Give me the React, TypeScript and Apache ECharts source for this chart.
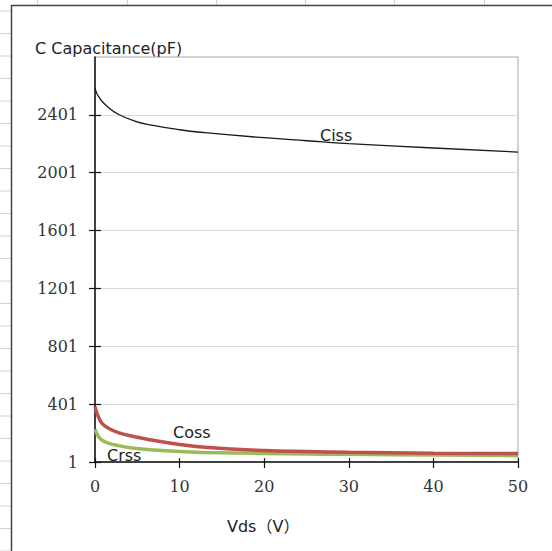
import React, { useEffect, useRef } from "react";
import * as echarts from "echarts";

// Vds (V) sample points
const vds = [0, 0.2, 0.4, 0.8, 1.6, 2.75, 4.7, 6.7, 10, 13, 20, 25, 30, 40, 50];
// Capacitances (pF)
const ciss = [2585, 2552, 2530, 2497, 2452, 2405, 2358, 2330, 2298, 2278, 2243, 2222, 2202, 2172, 2144];
const coss = [383, 345, 314, 270, 234, 204, 175, 153, 122, 103, 80, 73, 68, 62, 59];
const crss = [227, 200, 178, 153, 131, 114, 96, 85, 73, 67, 60, 57, 54, 49, 45];

const xTicks = [0, 10, 20, 30, 40, 50];
const yTicks = [1, 401, 801, 1201, 1601, 2001, 2401];
const seriesNames = ["Ciss", "Coss", "Crss"];

const pairs = (ys: number[]) => vds.map((v, i) => [v, ys[i]]);

export default function App() {
  const ref = useRef<HTMLDivElement>(null);
  useEffect(() => {
    const chart = echarts.init(ref.current!, null, { renderer: "svg" });
    const graphics: any[] = [];
    // spreadsheet cell lines outside the chart box
    [37, 127, 216, 305, 394, 484].forEach((x) =>
      graphics.push({ type: "line", silent: true, shape: { x1: x + 0.5, y1: 0, x2: x + 0.5, y2: 5 }, style: { stroke: "#d4d4d4", lineWidth: 1 } })
    );
    for (let k = 0; k < 25; k++) {
      const y = 11 + 22.5 * k;
      graphics.push({ type: "line", silent: true, shape: { x1: 0, y1: y, x2: 11, y2: y }, style: { stroke: "#d4d4d4", lineWidth: 1 } });
    }
    // chart box frame
    graphics.push({ type: "rect", silent: true, shape: { x: 11.5, y: 5.5, width: 700, height: 700 }, style: { fill: "none", stroke: "#444", lineWidth: 1.5 } });
    const sans = '"DejaVu Sans", "Noto Sans CJK SC", sans-serif';
    const txt = (text: string, x: number, y: number) => ({
      type: "text", x, y, style: { text, font: `16px ${sans}`, fill: "#222", verticalAlign: "middle" },
    });
    graphics.push(txt("C Capacitance(pF)", 35, 48));
    graphics.push(txt("Vds（V）", 227, 526));
    graphics.push(txt(seriesNames[0], 320, 135));
    graphics.push(txt(seriesNames[1], 173, 432));
    graphics.push(txt(seriesNames[2], 107, 455));

    const labelStyle = { fontFamily: '"DejaVu Serif", serif', fontSize: 16, color: "#333" };
    chart.setOption({
      animation: false,
      backgroundColor: "#fff",
      grid: { left: 95, top: 57, width: 423, height: 405, show: true, borderColor: "#a6a6a6", borderWidth: 1, backgroundColor: "transparent" },
      xAxis: [
        {
          type: "value", min: 0, max: 50, interval: 10,
          axisLine: { show: true, onZero: false, lineStyle: { color: "#111", width: 1.5 } },
          axisTick: { show: true, length: 6, lineStyle: { color: "#111", width: 1.2 } },
          axisLabel: { ...labelStyle, margin: 16, customValues: xTicks, formatter: (v: number) => String(v) },
          splitLine: { show: false },
        },
        {
          type: "value", min: 0, max: 50, interval: 10, position: "bottom",
          axisLine: { show: false },
          axisTick: { show: true, inside: true, length: 4, lineStyle: { color: "#111", width: 1.2 } },
          axisLabel: { show: false },
          splitLine: { show: false },
        },
      ],
      yAxis: [
        {
          type: "value", min: 1, max: 2801, interval: 400,
          axisLine: { show: true, onZero: false, lineStyle: { color: "#111", width: 1.5 } },
          axisTick: { show: true, length: 6, customValues: yTicks, lineStyle: { color: "#111", width: 1.2 } },
          axisLabel: { ...labelStyle, margin: 17, customValues: yTicks, formatter: (v: number) => String(v) },
          splitLine: { show: true, lineStyle: { color: "#d9d9d9", width: 1 } },
        },
        {
          type: "value", min: 1, max: 2801, interval: 400, position: "left",
          axisLine: { show: false },
          axisTick: { show: true, inside: true, length: 6, customValues: yTicks, lineStyle: { color: "#111", width: 1.2 } },
          axisLabel: { show: false },
          splitLine: { show: false },
        },
      ],
      series: [
        { name: seriesNames[0], type: "line", data: pairs(ciss), smooth: 0.5, showSymbol: false, lineStyle: { color: "#1a1a1a", width: 1.3 }, z: 3 },
        { name: seriesNames[1], type: "line", data: pairs(coss), smooth: 0.5, showSymbol: false, lineStyle: { color: "#c0504d", width: 3.5 }, z: 3 },
        { name: seriesNames[2], type: "line", data: pairs(crss), smooth: 0.5, showSymbol: false, lineStyle: { color: "#9bbb59", width: 3.5 }, z: 2 },
      ],
      graphic: graphics,
    });
    return () => chart.dispose();
  }, []);
  return <div ref={ref} style={{ position: "fixed", left: 0, top: 0, width: 552, height: 551 }} />;
}
